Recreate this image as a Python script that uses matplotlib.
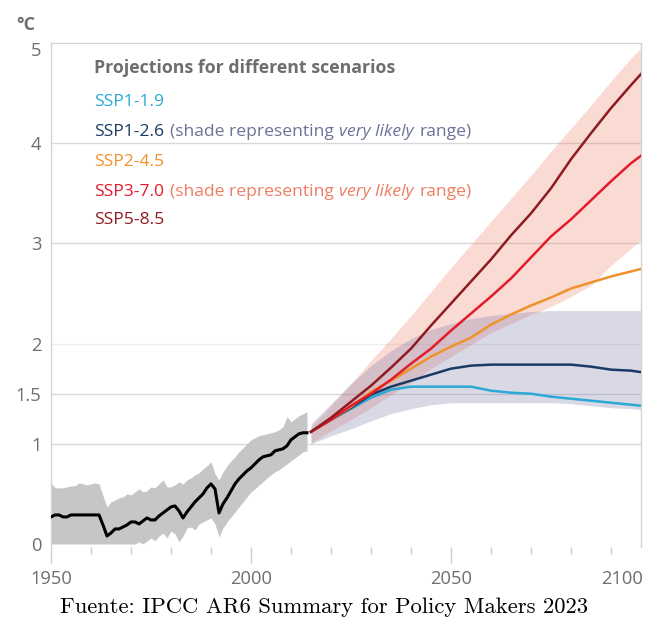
import matplotlib
matplotlib.use("Agg")
import matplotlib.pyplot as plt
from matplotlib.ticker import MultipleLocator

plt.rcParams['font.family'] = ['Open Sans', 'DejaVu Sans']

# ---------------- data ----------------
hist_years = list(range(1950, 2015))
hist_mean = [0.27, 0.29, 0.29, 0.27, 0.27, 0.29, 0.29, 0.29, 0.29, 0.29,
             0.29, 0.29, 0.29, 0.19, 0.08, 0.11, 0.15, 0.15, 0.17, 0.19,
             0.22, 0.22, 0.20, 0.23, 0.26, 0.24, 0.24, 0.28, 0.31, 0.34,
             0.37, 0.38, 0.33, 0.26, 0.32, 0.37, 0.42, 0.46, 0.50, 0.56,
             0.60, 0.55, 0.31, 0.40, 0.46, 0.53, 0.60, 0.65, 0.69, 0.73,
             0.76, 0.80, 0.84, 0.87, 0.88, 0.89, 0.93, 0.94, 0.95, 0.98,
             1.04, 1.07, 1.10, 1.11, 1.11]
hist_high = [0.61, 0.56, 0.56, 0.56, 0.57, 0.58, 0.58, 0.61, 0.60, 0.59,
             0.60, 0.61, 0.60, 0.48, 0.37, 0.42, 0.44, 0.46, 0.47, 0.50,
             0.49, 0.52, 0.55, 0.52, 0.53, 0.57, 0.56, 0.60, 0.64, 0.57,
             0.57, 0.59, 0.62, 0.60, 0.64, 0.66, 0.69, 0.71, 0.75, 0.78,
             0.82, 0.70, 0.64, 0.72, 0.78, 0.83, 0.87, 0.92, 0.96, 1.00,
             1.04, 1.06, 1.08, 1.09, 1.10, 1.11, 1.12, 1.14, 1.17, 1.27,
             1.22, 1.25, 1.28, 1.30, 1.32]
hist_low = [0.0, 0.0, 0.0, 0.0, 0.0, 0.0, 0.0, 0.0, 0.0, 0.0,
            0.0, 0.0, 0.0, 0.0, 0.0, 0.0, 0.0, 0.0, 0.0, 0.0,
            0.0, 0.0, 0.02, 0.0, 0.03, 0.06, 0.03, 0.08, 0.11, 0.06,
            0.13, 0.10, 0.02, 0.08, 0.16, 0.17, 0.14, 0.20, 0.22, 0.24,
            0.26, 0.20, 0.07, 0.16, 0.22, 0.27, 0.32, 0.37, 0.42, 0.47,
            0.52, 0.55, 0.59, 0.62, 0.66, 0.69, 0.72, 0.74, 0.77, 0.80,
            0.83, 0.86, 0.89, 0.92, 0.93]

proj_years = [2015, 2020, 2025, 2030, 2035, 2040, 2045, 2050, 2055,
              2060, 2065, 2070, 2075, 2080, 2085, 2090, 2095, 2100]
ssp119 = [1.12, 1.24, 1.35, 1.46, 1.54, 1.57, 1.57, 1.57, 1.57,
          1.53, 1.51, 1.50, 1.47, 1.45, 1.43, 1.41, 1.39, 1.37]
ssp126 = [1.12, 1.24, 1.36, 1.49, 1.57, 1.63, 1.69, 1.75, 1.78,
          1.79, 1.79, 1.79, 1.79, 1.79, 1.77, 1.74, 1.73, 1.70]
ssp245 = [1.12, 1.24, 1.37, 1.52, 1.63, 1.75, 1.87, 1.97, 2.06,
          2.19, 2.29, 2.38, 2.46, 2.55, 2.61, 2.67, 2.72, 2.77]
ssp370 = [1.12, 1.24, 1.38, 1.50, 1.64, 1.80, 1.95, 2.13, 2.30,
          2.47, 2.65, 2.86, 3.07, 3.24, 3.43, 3.62, 3.80, 3.95]
ssp585 = [1.12, 1.26, 1.42, 1.58, 1.76, 1.95, 2.18, 2.40, 2.62,
          2.84, 3.08, 3.30, 3.55, 3.84, 4.10, 4.35, 4.58, 4.80]
ssp126_low = [1.00, 1.08, 1.15, 1.23, 1.30, 1.35, 1.39, 1.41, 1.41,
              1.41, 1.41, 1.41, 1.41, 1.40, 1.38, 1.36, 1.35, 1.33]
ssp126_high = [1.20, 1.40, 1.60, 1.78, 1.93, 2.05, 2.14, 2.20, 2.25,
               2.28, 2.30, 2.32, 2.33, 2.33, 2.33, 2.33, 2.33, 2.33]
ssp370_low = [1.01, 1.13, 1.24, 1.36, 1.49, 1.61, 1.75, 1.87, 1.99,
              2.11, 2.20, 2.29, 2.37, 2.47, 2.58, 2.78, 2.95, 3.12]
ssp370_high = [1.17, 1.38, 1.60, 1.83, 2.05, 2.28, 2.52, 2.76, 2.99,
               3.22, 3.45, 3.68, 3.92, 4.15, 4.38, 4.62, 4.85, 5.05]

y_ticks = [0, 1, 1.5, 2, 3, 4, 5]
y_labels = ['0', '1', '1.5', '2', '3', '4', '']
x_major = [1950, 2000, 2050]
x_labels = ['1950', '2000', '2050']

scenario_names = ['SSP1-1.9', 'SSP1-2.6', 'SSP2-4.5', 'SSP3-7.0', 'SSP5-8.5']
scenario_colors = ['#2aaad6', '#1b3a64', '#f0922c', '#e31b2b', '#8e1b22']

# ---------------- figure ----------------
fig = plt.figure(figsize=(6.48, 6.26), dpi=100)
ax = fig.add_axes([51 / 648, 79 / 626, 590 / 648, 504 / 626])
ax.set_xlim(1950, 2097.5)
ax.set_ylim(-0.03, 5.0)

grey_txt = '#6d6e70'
spine_c = '#d4d4d4'
for s in ['top', 'left', 'right']:
    ax.spines[s].set_color(spine_c)
    ax.spines[s].set_linewidth(1)
ax.spines['bottom'].set_visible(False)

for v in y_ticks[1:-1]:
    ax.axhline(v, color='#eeeeee' if v == 2 else '#d9d9d9', lw=1, zorder=0.5)

# shades
ax.fill_between(hist_years, hist_low, hist_high, color='#c6c5c7', lw=0, zorder=1)
ax.fill_between(proj_years, ssp370_low, ssp370_high, color=(0.93, 0.45, 0.33),
                alpha=0.25, lw=0, zorder=1.1)
ax.fill_between(proj_years, ssp126_low, ssp126_high, color=(0.45, 0.45, 0.65),
                alpha=0.27, lw=0, zorder=1.2)

# lines
ax.plot(hist_years, hist_mean, color='black', lw=2.2, zorder=3,
        solid_joinstyle='round')
series = [ssp119, ssp126, ssp245, ssp585, ssp370]
order = [0, 1, 2, 4, 3]
for vals, idx in zip(series, order):
    ax.plot(proj_years, vals, color=scenario_colors[idx], lw=1.8, zorder=3 + idx * 0.1,
            solid_joinstyle='round')

# ticks
ax.set_xticks(x_major, labels=x_labels)
ax.xaxis.set_minor_locator(MultipleLocator(10))
ax.tick_params(axis='x', which='major', length=11.5, width=1, color='#cfcfcf',
               pad=5, labelsize=13.2, labelcolor=grey_txt)
ax.tick_params(axis='x', which='minor', length=5, width=1, color='#cfcfcf')
ax.annotate('2100', xy=(1, 0), xycoords='axes fraction', xytext=(1.5, -16.5),
            textcoords='offset points', ha='right', va='top', fontsize=13.2,
            color=grey_txt, annotation_clip=False)

ax.set_yticks(y_ticks, labels=y_labels)
ax.tick_params(axis='y', length=0, pad=7, labelsize=13.2, labelcolor=grey_txt)
ax.annotate('5', xy=(0, 5), xycoords=ax.get_yaxis_transform(), xytext=(-7, -6),
            textcoords='offset points', ha='right', va='center', fontsize=13.2,
            color=grey_txt, annotation_clip=False)

fig.text(26 / 648, 1 - 25.5 / 626, '°C', weight='bold', fontsize=13, color=grey_txt,
         ha='center', va='center')

# legend text block
fs = 12.6
fig.text(94 / 648, 1 - 73 / 626, 'Projections for different scenarios',
         weight='bold', fontsize=12.75, color=grey_txt, va='baseline')
baselines = [105.7, 135.7, 166, 195.7, 224]
shade_txt_colors = {1: '#6b7398', 3: '#f07c62'}


def chain(prev, s, color, style='normal', gap=4.0):
    return ax.annotate(s, xy=(1, 0), xycoords=prev, xytext=(gap, 0),
                       textcoords='offset points', ha='left', va='bottom',
                       color=color, fontsize=fs, style=style,
                       annotation_clip=False)


for i, (name, col, bl) in enumerate(zip(scenario_names, scenario_colors, baselines)):
    t = fig.text(94 / 648, 1 - bl / 626, name, color=col, fontsize=fs, va='baseline')
    if i in shade_txt_colors:
        c = shade_txt_colors[i]
        t2 = chain(t, '(shade representing', c, gap=4.2)
        t3 = chain(t2, 'very likely', c, style='italic', gap=4.0)
        chain(t3, 'range)', c, gap=4.0)

fig.text(0.5, 1 - 607 / 626, 'Fuente: IPCC AR6 Summary for Policy Makers 2023',
         family='cmr10', fontsize=16.3, ha='center', va='center', color='black')

fig.savefig('out.png', dpi=100)
